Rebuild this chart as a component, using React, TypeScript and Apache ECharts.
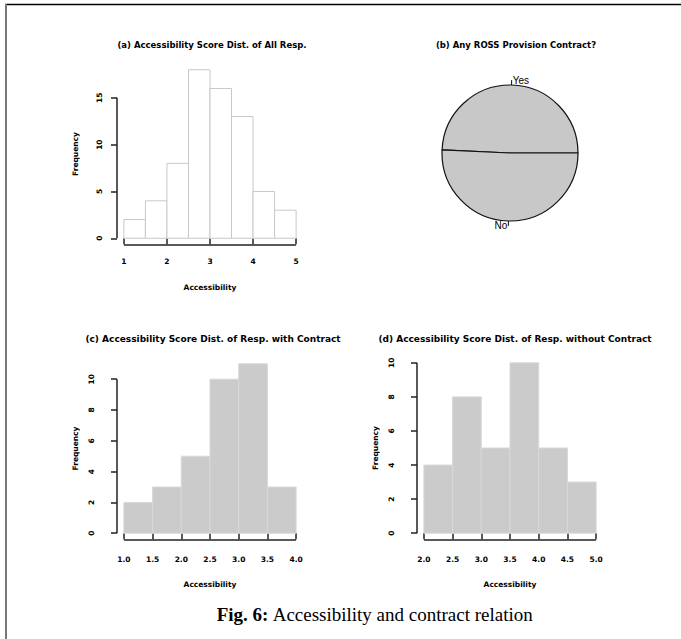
import React, { useEffect, useRef } from "react";
import * as echarts from "echarts";

// ---- data ----
const edgesA = [1, 1.5, 2, 2.5, 3, 3.5, 4, 4.5, 5];
const countsA = [2, 4, 8, 18, 16, 13, 5, 3];
const edgesC = [1, 1.5, 2, 2.5, 3, 3.5, 4];
const countsC = [2, 3, 5, 10, 11, 3];
const edgesD = [2, 2.5, 3, 3.5, 4, 4.5, 5];
const countsD = [4, 8, 5, 10, 5, 3];
const contractLabels = ["Yes", "No"];
const contractCounts = [34, 35];

const xTicksA = [1, 2, 3, 4, 5];
const yTicksA = [0, 5, 10, 15];
const xTicksC = [1, 1.5, 2, 2.5, 3, 3.5, 4];
const yTicksC = [0, 2, 4, 6, 8, 10];
const xTicksD = [2, 2.5, 3, 3.5, 4, 4.5, 5];
const yTicksD = [0, 2, 4, 6, 8, 10];

const titles = [
  "(a) Accessibility Score Dist. of All Resp.",
  "(b) Any ROSS Provision Contract?",
  "(c) Accessibility Score Dist. of Resp. with Contract",
  "(d) Accessibility Score Dist. of Resp. without Contract",
];

const FONT = "DejaVu Sans";
const AX = "#222";

function ext(lo: number, hi: number) {
  const d = (hi - lo) * 0.04;
  return [lo - d, hi + d];
}

function histSeries(idx: number, edges: number[], counts: number[], fill: string, stroke: string) {
  return {
    type: "custom",
    xAxisIndex: idx,
    yAxisIndex: idx,
    clip: false,
    data: counts.map((c, i) => [edges[i], edges[i + 1], c]),
    encode: { x: [0, 1], y: 2 },
    renderItem: (params: any, api: any) => {
      const p0 = api.coord([api.value(0), api.value(2)]);
      const p1 = api.coord([api.value(1), 0]);
      return {
        type: "rect",
        shape: { x: p0[0], y: p0[1], width: p1[0] - p0[0], height: p1[1] - p0[1] },
        style: { fill, stroke, lineWidth: 1 },
      };
    },
  };
}

function axisLineSeries(idx: number, xr: number[], yr: number[], xt: number[], yt: number[]) {
  return {
    type: "custom",
    xAxisIndex: idx,
    yAxisIndex: idx,
    clip: false,
    silent: true,
    data: [[xt[0], xt[xt.length - 1], yt[0], yt[yt.length - 1]]],
    encode: { x: [0, 1], y: [2, 3] },
    renderItem: (params: any, api: any) => {
      const a0 = api.coord([api.value(0), yr[0]]);
      const a1 = api.coord([api.value(1), yr[0]]);
      const b0 = api.coord([xr[0], api.value(2)]);
      const b1 = api.coord([xr[0], api.value(3)]);
      const st = { stroke: AX, lineWidth: 1.5 };
      return {
        type: "group",
        children: [
          { type: "line", shape: { x1: a0[0], y1: a0[1], x2: a1[0], y2: a1[1] }, style: st },
          { type: "line", shape: { x1: b0[0], y1: b0[1], x2: b1[0], y2: b1[1] }, style: st },
        ],
      };
    },
  };
}

const lblStyle = { color: "#000", fontSize: 7.5, fontFamily: FONT, fontWeight: "bold" };

function xAxisCfg(idx: number, range: number[], ticks: number[], dec: number, margin: number, gap: number) {
  return {
    type: "value",
    gridIndex: idx,
    min: range[0],
    max: range[1],
    axisLine: { show: false },
    splitLine: { show: false },
    axisTick: { show: true, customValues: ticks, length: 6, lineStyle: { color: AX, width: 1.5 } },
    axisLabel: {
      customValues: ticks,
      margin,
      ...lblStyle,
      formatter: (v: number) => v.toFixed(dec),
    },
    name: "Accessibility",
    nameLocation: "middle",
    nameGap: gap,
    nameTextStyle: { ...lblStyle },
  };
}

function yAxisCfg(idx: number, range: number[], ticks: number[], margin: number, gap: number) {
  return {
    type: "value",
    gridIndex: idx,
    min: range[0],
    max: range[1],
    axisLine: { show: false },
    splitLine: { show: false },
    axisTick: { show: true, customValues: ticks, length: 6, lineStyle: { color: AX, width: 1.5 } },
    axisLabel: {
      customValues: ticks,
      margin,
      rotate: 90,
      ...lblStyle,
    },
    name: "Frequency",
    nameLocation: "middle",
    nameGap: gap,
    nameTextStyle: { ...lblStyle },
  };
}

export default function App() {
  const ref = useRef<HTMLDivElement>(null);
  useEffect(() => {
    if (!ref.current) return;
    const chart = echarts.init(ref.current, null, { renderer: "svg" });

    const xrA = ext(edgesA[0], edgesA[edgesA.length - 1]);
    const yrA = ext(0, Math.max(...countsA));
    const xrC = ext(edgesC[0], edgesC[edgesC.length - 1]);
    const yrC = ext(0, Math.max(...countsC));
    const xrD = ext(edgesD[0], edgesD[edgesD.length - 1]);
    const yrD = ext(0, Math.max(...countsD));

    const tsTop = { color: "#000", fontSize: 8.5, fontWeight: "bold", fontFamily: FONT };
    const tsBot = { color: "#000", fontSize: 9, fontWeight: "bold", fontFamily: FONT };

    chart.setOption({
      animation: false,
      backgroundColor: "#fff",
      title: [
        { text: titles[0], left: 207, top: 35, textAlign: "center", textStyle: tsTop },
        { text: titles[1], left: 511, top: 35, textAlign: "center", textStyle: tsTop },
        { text: titles[2], left: 208, top: 329, textAlign: "center", textStyle: tsBot },
        { text: titles[3], left: 510, top: 329, textAlign: "center", textStyle: tsBot },
        {
          text: "{b|Fig. 6:} Accessibility and contract relation",
          left: 370,
          top: 600,
          textAlign: "center",
          textStyle: {
            color: "#000",
            fontSize: 19,
            fontWeight: "normal",
            fontFamily: "Liberation Serif",
            rich: { b: { fontWeight: "bold", fontSize: 19, fontFamily: "Liberation Serif", color: "#000" } },
          },
        },
      ],
      grid: [
        { left: 117, top: 63, width: 186, height: 182 },
        { left: 117, top: 357, width: 186, height: 183 },
        { left: 417, top: 356, width: 186, height: 184 },
      ],
      xAxis: [
        xAxisCfg(0, xrA, xTicksA, 0, 12, 38),
        xAxisCfg(1, xrC, xTicksC, 1, 15, 40),
        xAxisCfg(2, xrD, xTicksD, 1, 15, 40),
      ],
      yAxis: [
        yAxisCfg(0, yrA, yTicksA, 14, 38),
        yAxisCfg(1, yrC, yTicksC, 22, 38),
        yAxisCfg(2, yrD, yTicksD, 22, 38),
      ],
      graphic: [
        { type: "line", shape: { x1: 5, y1: 4.5, x2: 681, y2: 4.5 }, style: { stroke: "#000", lineWidth: 1.5 } },
        { type: "line", shape: { x1: 6, y1: 4, x2: 6, y2: 639 }, style: { stroke: "#777", lineWidth: 2 } },
      ],
      series: [
        histSeries(0, edgesA, countsA, "#ffffff", "#c8c8c8"),
        histSeries(1, edgesC, countsC, "#cbcbcb", "#d8d8d8"),
        histSeries(2, edgesD, countsD, "#cbcbcb", "#d8d8d8"),
        axisLineSeries(0, xrA, yrA, xTicksA, yTicksA),
        axisLineSeries(1, xrC, yrC, xTicksC, yTicksC),
        axisLineSeries(2, xrD, yrD, xTicksD, yTicksD),
        {
          type: "pie",
          center: [510, 153],
          radius: 68,
          startAngle: 0,
          clockwise: false,
          avoidLabelOverlap: false,
          data: contractLabels.map((n, i) => ({ name: n, value: contractCounts[i] })),
          itemStyle: { color: "#c8c8c8", borderColor: "#111", borderWidth: 1.2 },
          label: {
            show: true,
            position: "outside",
            color: "#000",
            fontSize: 10,
            fontFamily: "Liberation Sans",
            distanceToLabelLine: 1,
          },
          labelLine: { show: true, length: 5, length2: 0, lineStyle: { color: "#111", width: 1 } },
          emphasis: { disabled: true },
        },
      ],
    });
    return () => chart.dispose();
  }, []);
  return <div ref={ref} style={{ position: "absolute", left: 0, top: 0, width: 681, height: 639 }} />;
}
